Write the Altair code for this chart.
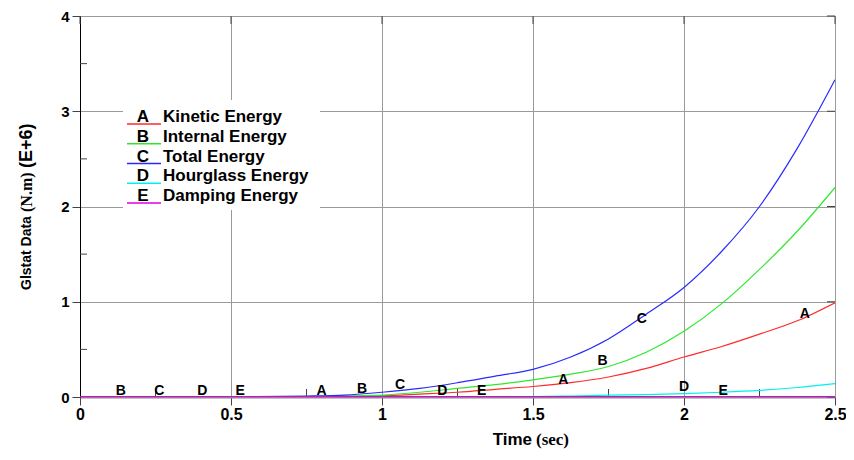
import altair as alt
import pandas as pd

# ---- data ----
time = [0, 0.25, 0.5, 0.75, 0.875, 1.0, 1.125, 1.25, 1.375, 1.5, 1.625, 1.75, 1.875, 2.0, 2.125, 2.25, 2.375, 2.5]
kinetic = [0, 0, 0, 0.003, 0.006, 0.012, 0.03, 0.05, 0.08, 0.11, 0.15, 0.21, 0.30, 0.42, 0.53, 0.66, 0.80, 0.99]
internal = [0, 0, 0, 0.004, 0.01, 0.02, 0.05, 0.09, 0.13, 0.18, 0.24, 0.32, 0.47, 0.69, 0.98, 1.34, 1.74, 2.2]
total = [0, 0, 0.003, 0.01, 0.02, 0.05, 0.09, 0.15, 0.22, 0.29, 0.42, 0.61, 0.87, 1.15, 1.53, 2.0, 2.61, 3.33]
hourglass = [0, 0, 0, 0, 0, 0, 0, 0, 0.001, 0.003, 0.01, 0.02, 0.025, 0.035, 0.05, 0.07, 0.10, 0.14]
damping = [0] * 18

series_keys = ["A", "B", "C", "D", "E"]
series_names = ["Kinetic Energy", "Internal Energy", "Total Energy", "Hourglass Energy", "Damping Energy"]
series_colors = ["#ff2a2a", "#2ee82e", "#2a2aff", "#00f0f0", "#e000e0"]

label_letters = ["B", "C", "D", "E", "A", "B", "C", "D", "E", "A", "B", "C", "D", "E", "A"]
label_x = [0.135, 0.263, 0.405, 0.53, 0.80, 0.934, 1.06, 1.2, 1.33, 1.60, 1.73, 1.86, 2.0, 2.13, 2.40]
label_y = [0.06, 0.06, 0.06, 0.06, 0.06, 0.08, 0.13, 0.06, 0.06, 0.18, 0.38, 0.82, 0.10, 0.06, 0.87]

x_ticks = [0, 0.5, 1, 1.5, 2, 2.5]
y_ticks = [0, 1, 2, 3, 4]
x_minor = [0.25, 0.75, 1.25, 1.75, 2.25]
y_minor = [0.5, 1.5, 2.5, 3.5]

x_title = ["Time", "(sec)"]
y_title = ["Glstat Data", "(N.m)", "(E+6)"]

# ---- tables ----
rows = []
for key, vals in zip(series_keys, [kinetic, internal, total, hourglass, damping]):
    for t, v in zip(time, vals):
        rows.append({"x": t, "y": v, "s": key})
df = pd.DataFrame(rows)
lab = pd.DataFrame({"x": label_x, "y": label_y, "t": label_letters})
leg = pd.DataFrame({"k": series_keys, "n": series_names, "c": series_colors, "i": list(range(5))})

W, H = 755, 381
TOP = 8
SANS = "Liberation Sans"
SERIF = "Liberation Serif"

xs = alt.Scale(domain=[0, 2.5], nice=False, zero=False)
ys = alt.Scale(domain=[0, 4], nice=False)

xaxis = alt.Axis(values=x_ticks, format="~g", tickSize=8, tickColor="#444", labelFont=SANS,
                 labelFontWeight="bold", labelFontSize=16, labelColor="black", labelPadding=1,
                 domainColor="#888", domainWidth=2, gridColor="#9a9a9a", grid=True, title=None,
                 labelFlush=False)
yaxis = alt.Axis(values=y_ticks, format="d", tickSize=8, tickColor="#444", labelFont=SANS,
                 labelFontWeight="bold", labelFontSize=15, labelColor="black", labelPadding=3,
                 domainColor="black", gridColor="#9a9a9a", grid=True, title=None, labelFlush=False)

lines = alt.Chart(df).mark_line(clip=True, interpolate="monotone").encode(
    x=alt.X("x:Q", scale=xs, axis=xaxis),
    y=alt.Y("y:Q", scale=ys, axis=yaxis),
    color=alt.Color("s:N", scale=alt.Scale(domain=series_keys, range=series_colors), legend=None),
    strokeWidth=alt.condition("datum.s == 'E'", alt.value(2), alt.value(1.2)),
)

letters = alt.Chart(lab).mark_text(font=SANS, fontWeight="bold", fontSize=14, color="black",
                                   baseline="middle", align="center").encode(
    x=alt.X("x:Q", scale=xs, axis=xaxis),
    y=alt.Y("y:Q", scale=ys, axis=yaxis),
    text="t:N",
)

xminor = alt.Chart(pd.DataFrame({"x": x_minor})).mark_rule(color="#444").encode(
    x=alt.X("x:Q", scale=xs, axis=xaxis), y=alt.value(H), y2=alt.value(H - 8))
xtop = alt.Chart(pd.DataFrame({"x": x_ticks})).mark_rule(color="#444").encode(
    x=alt.X("x:Q", scale=xs, axis=xaxis), y=alt.value(0), y2=alt.value(8))
yminor = alt.Chart(pd.DataFrame({"y": y_minor})).mark_rule(color="#444").encode(
    y=alt.Y("y:Q", scale=ys, axis=yaxis), x=alt.value(0), x2=alt.value(7))
yright = alt.Chart(pd.DataFrame({"y": y_ticks})).mark_rule(color="#444").encode(
    y=alt.Y("y:Q", scale=ys, axis=yaxis), x=alt.value(W - 8), x2=alt.value(W))

# legend (pixel offsets relative to plot top)
off = 14 - (TOP + 8)
box = alt.Chart(pd.DataFrame({"a": [0]})).mark_rect(color="white").encode(
    x=alt.value(43), x2=alt.value(240), y=alt.value(86 + off), y2=alt.value(196 + off))
leg_base = alt.Chart(leg).transform_calculate(
    ly=f"{103 + off} + datum.i * 19.75", uy=f"{110 + off} + datum.i * 19.75")
leg_lines = leg_base.mark_rule(strokeWidth=1.5).encode(
    x=alt.value(47), x2=alt.value(81), y=alt.Y("uy:Q", scale=None), color=alt.Color("c:N", scale=None))
leg_keys = leg_base.mark_text(font=SANS, fontWeight="bold", fontSize=17, color="black",
                              align="center", baseline="middle").encode(
    x=alt.value(63), y=alt.Y("ly:Q", scale=None), text="k:N")
leg_names = leg_base.mark_text(font=SANS, fontWeight="bold", fontSize=17, color="black",
                               align="left", baseline="middle").encode(
    x=alt.value(83), y=alt.Y("ly:Q", scale=None), text="n:N")

# axis titles
xt1 = alt.Chart(pd.DataFrame({"t": [x_title[0]]})).mark_text(
    font=SANS, fontWeight="bold", fontSize=17, color="black", align="right", baseline="middle").encode(
    text="t:N", x=alt.value(452), y=alt.value(424))
xt2 = alt.Chart(pd.DataFrame({"t": [x_title[1]]})).mark_text(
    font=SERIF, fontWeight="bold", fontSize=17, color="black", align="left", baseline="middle").encode(
    text="t:N", x=alt.value(456), y=alt.value(424))
yt1 = alt.Chart(pd.DataFrame({"t": [y_title[0]]})).mark_text(
    font=SANS, fontWeight="bold", fontSize=14, color="black", align="left", baseline="middle", angle=270).encode(
    text="t:N", x=alt.value(-53), y=alt.value(276 + off))
yt2 = alt.Chart(pd.DataFrame({"t": [y_title[1]]})).mark_text(
    font=SERIF, fontWeight="bold", fontSize=16, color="black", align="left", baseline="middle", angle=270).encode(
    text="t:N", x=alt.value(-53), y=alt.value(198 + off))
yt3 = alt.Chart(pd.DataFrame({"t": [y_title[2]]})).mark_text(
    font=SANS, fontWeight="bold", fontSize=18, color="black", align="left", baseline="middle", angle=270).encode(
    text="t:N", x=alt.value(-53), y=alt.value(154 + off))

chart = alt.layer(
    box, xminor, xtop, yminor, yright, lines, letters,
    leg_lines, leg_keys, leg_names, xt1, xt2, yt1, yt2, yt3,
).properties(
    width=W, height=H,
    autosize=alt.AutoSizeParams(type="none"),
    padding={"left": 72, "top": TOP, "right": 11, "bottom": 56},
).configure_view(stroke="#888", strokeWidth=2).configure(background="white")

chart.save("out.html", embed_options={"renderer": "svg", "actions": False})
